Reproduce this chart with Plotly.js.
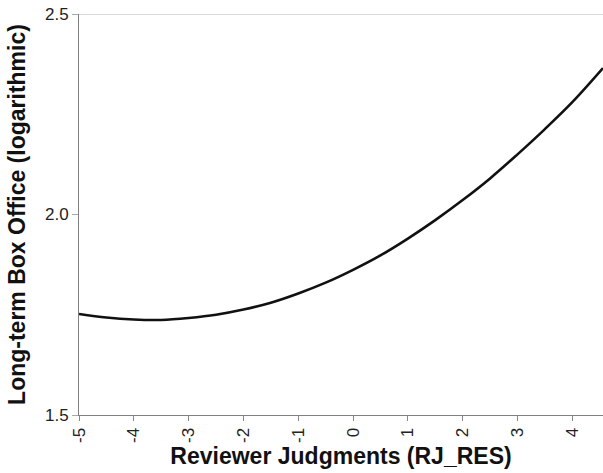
<!DOCTYPE html>
<html>
<head>
<meta charset="utf-8">
<script src="https://cdn.plot.ly/plotly-3.0.1.min.js"></script>
<style>html,body{margin:0;padding:0;background:#fff;}#chart{width:603px;height:473px;}</style>
</head>
<body>
<div id="chart"></div>
<script>
// Reviewer Judgments (RJ_RES) vs Long-term Box Office (logarithmic)
const rjValues = [-5, -4.5, -4, -3.5, -3, -2.5, -2, -1.5, -1, -0.5, 0, 0.5, 1, 1.5, 2, 2.5, 3, 3.5, 4, 4.56];
const boxOffice = [1.752, 1.743, 1.738, 1.737, 1.742, 1.750, 1.763, 1.780, 1.803, 1.830, 1.862, 1.898, 1.940, 1.986, 2.036, 2.090, 2.150, 2.213, 2.280, 2.365];
const xTicks = [-5, -4, -3, -2, -1, 0, 1, 2, 3, 4];
const xTickLabels = ["-5", "-4", "-3", "-2", "-1", "0", "1", "2", "3", "4"];
const yTicks = [1.5, 2.0, 2.5];
const yTickLabels = ["1.5", "2.0", "2.5"];

const font = "Liberation Sans, Arial, Helvetica, sans-serif";

Plotly.newPlot("chart", [{
  x: rjValues,
  y: boxOffice,
  type: "scatter",
  mode: "lines",
  line: {color: "#111111", width: 2.6, shape: "spline"},
  hoverinfo: "skip"
}], {
  width: 603, height: 473,
  margin: {l: 79, r: 0, t: 14, b: 58},
  paper_bgcolor: "#ffffff",
  plot_bgcolor: "#ffffff",
  showlegend: false,
  font: {family: font, color: "#222222"},
  xaxis: {
    range: [-5, 4.56],
    tickmode: "array", tickvals: xTicks, ticktext: xTickLabels,
    tickangle: -90,
    ticks: "outside", ticklen: 5, tickcolor: "#888888", tickwidth: 1,
    showline: true, linecolor: "#808080", linewidth: 1,
    showgrid: false, zeroline: false,
    tickfont: {family: font, size: 17, color: "#222222"},
    title: {text: "Reviewer Judgments (RJ_RES)", font: {family: font, size: 23, color: "#111111", weight: "bold"}, standoff: 2}
  },
  yaxis: {
    range: [1.5, 2.5],
    tickmode: "array", tickvals: yTicks, ticktext: yTickLabels,
    ticks: "outside", ticklen: 6, tickcolor: "#aaaaaa", tickwidth: 1,
    showline: true, linecolor: "#808080", linewidth: 1,
    showgrid: false, zeroline: false,
    tickfont: {family: font, size: 17, color: "#222222"},
    title: {text: "Long-term Box Office (logarithmic)", font: {family: font, size: 23, color: "#111111", weight: "bold"}, standoff: 12}
  },
  shapes: [{
    type: "line", xref: "paper", x0: 0, x1: 1, yref: "y", y0: 2.5, y1: 2.5,
    line: {color: "#b5b5b5", width: 1}
  }]
}, {displayModeBar: false, staticPlot: true});
</script>
</body>
</html>
